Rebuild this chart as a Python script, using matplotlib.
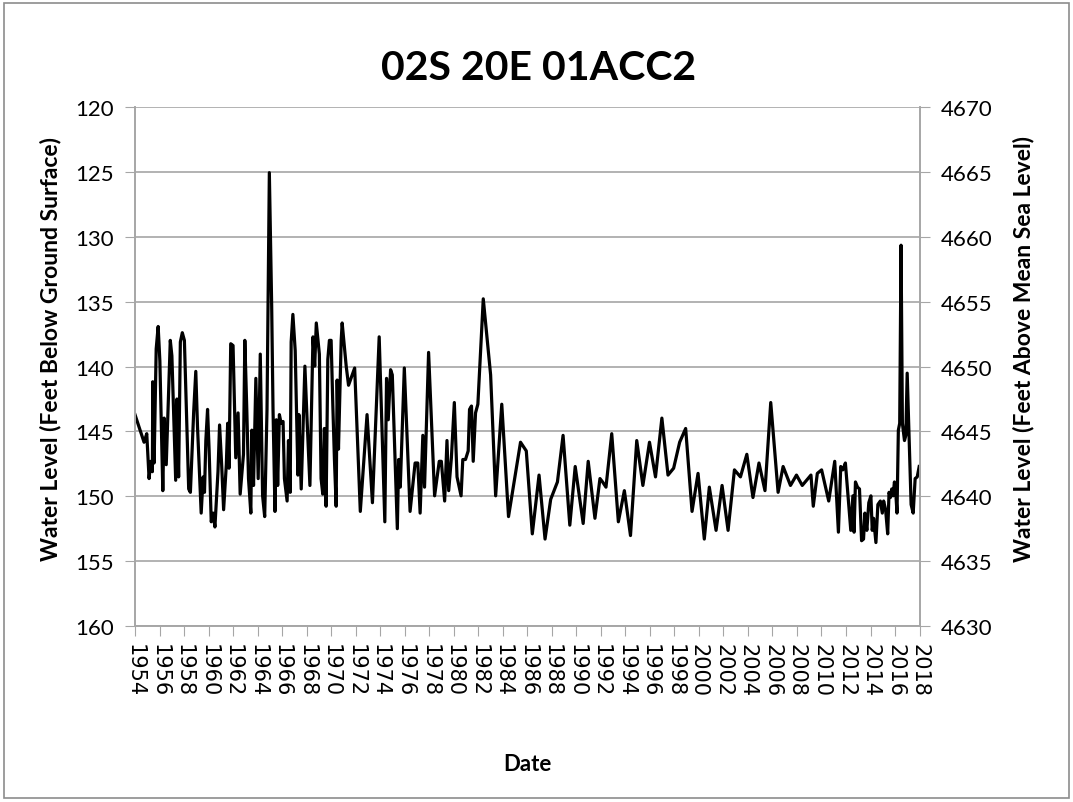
import matplotlib
matplotlib.use("Agg")
import matplotlib.pyplot as plt
from matplotlib.patches import Rectangle

# decimal year of each reading and depth to water (ft below ground surface)
years = [
    1954.00, 1954.74, 1954.96, 1955.15, 1955.29, 1955.42, 1955.45, 1955.56, 1955.73, 1955.89,
    1956.03, 1956.27, 1956.38, 1956.55, 1956.66, 1956.88, 1957.01, 1957.32, 1957.42, 1957.56,
    1957.70, 1957.86, 1958.03, 1958.38, 1958.52, 1958.79, 1958.96, 1959.10, 1959.40, 1959.56,
    1959.67, 1959.78, 1959.92, 1960.05, 1960.22, 1960.38, 1960.52, 1960.77, 1960.90, 1961.07,
    1961.23, 1961.45, 1961.56, 1961.67, 1961.81, 1962.00, 1962.22, 1962.41, 1962.58, 1962.85,
    1962.96, 1963.12, 1963.26, 1963.45, 1963.53, 1963.67, 1963.86, 1964.05, 1964.22, 1964.41,
    1964.58, 1964.77, 1964.96, 1965.15, 1965.26, 1965.42, 1965.53, 1965.64, 1965.78, 1965.92,
    1966.08, 1966.19, 1966.41, 1966.52, 1966.66, 1966.74, 1966.88, 1967.07, 1967.29, 1967.37,
    1967.56, 1967.75, 1967.86, 1968.05, 1968.27, 1968.52, 1968.66, 1968.79,
    1969.04, 1969.18, 1969.32, 1969.45, 1969.59, 1969.73, 1969.86, 1970.00, 1970.14, 1970.27,
    1970.41, 1970.49, 1970.60, 1970.82, 1970.90, 1971.23, 1971.42, 1971.92, 1972.38, 1972.93,
    1973.37, 1973.92, 1974.38, 1974.52, 1974.66, 1974.85, 1974.99, 1975.40, 1975.51, 1975.64,
    1975.97, 1976.44, 1976.85, 1977.07, 1977.26, 1977.48, 1977.62, 1977.95, 1978.44, 1978.82,
    1978.99, 1979.26, 1979.45, 1979.59, 1979.81, 1980.05, 1980.27, 1980.60, 1980.74, 1980.96,
    1981.18, 1981.29, 1981.45, 1981.59, 1981.78, 1981.97, 1982.41, 1983.01, 1983.42, 1983.92,
    1984.47, 1985.45, 1985.92, 1986.41, 1986.96, 1987.45, 1987.91, 1988.46, 1988.92, 1989.47,
    1989.91, 1990.56, 1990.97, 1991.52, 1991.93, 1992.15, 1992.42, 1992.89, 1993.43, 1993.92,
    1994.42, 1994.93, 1995.43, 1995.97, 1996.46, 1996.98, 1997.48, 1997.94, 1998.43, 1998.92,
    1999.44, 1999.93, 2000.44, 2000.85, 2001.40, 2001.89, 2002.38, 2002.90, 2003.39, 2003.91,
    2004.41, 2004.90, 2005.39, 2005.86, 2006.46, 2006.87, 2007.47, 2007.96, 2008.43, 2009.14,
    2009.33, 2009.66, 2010.01, 2010.59, 2011.08, 2011.38, 2011.57, 2011.74, 2011.95, 2012.12,
    2012.28, 2012.39, 2012.56, 2012.66, 2012.77, 2012.94, 2013.10, 2013.27, 2013.43, 2013.54,
    2013.70, 2013.86, 2014.03, 2014.14, 2014.25, 2014.44, 2014.60, 2014.80, 2014.96, 2015.07,
    2015.23, 2015.40, 2015.51, 2015.62, 2015.73, 2015.84, 2015.95, 2016.05, 2016.16, 2016.27,
    2016.38, 2016.49, 2016.60, 2016.77, 2016.88, 2016.99, 2017.15, 2017.31, 2017.48, 2017.64,
    2017.81, 2017.97,
]
depth = [
    143.70, 145.83, 145.17, 148.63, 147.30, 148.10, 141.17, 147.43, 138.64, 136.91,
    139.57, 149.56, 143.97, 147.56, 144.37, 137.98, 139.17, 148.76, 142.50, 148.50,
    138.11, 137.39, 137.98, 149.43, 149.69, 143.44, 140.37, 144.63, 151.29, 148.50,
    149.69, 145.70, 143.30, 146.50, 151.96, 151.29, 152.36, 148.10, 144.50, 147.56,
    151.03, 147.56, 144.37, 147.83, 138.24, 138.38, 147.03, 143.57, 149.83, 146.76,
    137.98, 143.30, 148.63, 151.29, 144.90, 149.16, 140.91, 148.63, 139.04, 149.96,
    151.56, 143.30, 125.06, 135.31, 143.30, 151.16, 144.10, 149.16, 143.70, 144.37,
    144.23, 148.63, 150.36, 145.70, 149.69, 138.11, 135.98, 138.78, 148.36, 143.70,
    149.43, 143.44, 139.97, 144.37, 149.16, 137.71, 139.97, 136.64,
    139.04, 148.63, 149.83, 144.77, 150.76, 139.44, 137.98, 137.98, 143.04, 147.16,
    150.76, 141.04, 146.36, 137.98, 136.64, 139.97, 141.44, 140.11, 151.16, 143.70,
    150.49, 137.71, 151.96, 140.91, 144.10, 140.24, 140.64, 152.49, 147.16, 149.29,
    140.11, 151.16, 147.43, 147.43, 151.29, 145.30, 149.29, 138.91, 149.96, 147.30,
    147.30, 150.36, 145.70, 149.56, 147.03, 142.77, 148.50, 149.96, 147.16, 147.16,
    146.50, 143.30, 143.04, 147.30, 143.57, 142.90, 134.78, 140.64, 149.96, 142.90,
    151.56, 145.83, 146.50, 152.89, 148.36, 153.29, 150.23, 148.89, 145.30, 152.22,
    147.70, 152.09, 147.30, 151.69, 148.63, 148.90, 149.29, 145.17, 151.96, 149.56,
    153.02, 145.70, 149.16, 145.83, 148.50, 143.97, 148.36, 147.83, 145.83, 144.77,
    151.16, 148.23, 153.29, 149.29, 152.62, 149.16, 152.62, 147.96, 148.50, 146.76,
    150.09, 147.43, 149.56, 142.77, 149.69, 147.70, 149.16, 148.36, 149.16, 148.36,
    150.76, 148.23, 147.96, 150.36, 147.30, 152.76, 147.70, 147.96, 147.43, 149.43,
    151.29, 152.62, 149.96, 152.76, 148.89, 149.29, 149.43, 153.42, 153.29, 151.29,
    152.62, 150.49, 149.96, 152.62, 151.69, 153.56, 150.63, 150.36, 151.29, 150.36,
    151.03, 152.89, 149.69, 150.09, 149.43, 149.96, 148.89, 149.56, 151.29, 144.90,
    144.37, 130.65, 144.37, 145.70, 145.30, 140.51, 145.56, 150.63, 151.29, 148.63,
    148.50, 147.70,
]

year_ticks = list(range(1954, 2019, 2))
depth_ticks = [120, 125, 130, 135, 140, 145, 150, 155, 160]
elev_ticks = [4630, 4635, 4640, 4645, 4650, 4655, 4660, 4665, 4670]

plt.rcParams['font.family'] = ['Lato', 'DejaVu Sans']
grid_col = '#a6a6a6'

fig = plt.figure(figsize=(10.73, 8.03), dpi=100)
ax = fig.add_axes([0.1258, 0.219, 0.7312, 0.6465])

ax.plot(years, depth, color='black', linewidth=2.3)

ax.set_xlim(1954, 2018)
ax.set_ylim(160, 120)
ax.set_xticks(year_ticks)
ax.set_xticklabels([str(y) for y in year_ticks], rotation=-90)
for lbl in ax.get_xticklabels():
    lbl.set_fontfamily('DejaVu Sans')
    lbl.set_fontsize(15)
ax.set_yticks(depth_ticks)
ax.tick_params(axis='y', labelsize=16, length=7, color=grid_col, pad=8)
ax.tick_params(axis='x', length=7, color=grid_col, pad=5)
ax.grid(axis='y', color=grid_col, linewidth=1.2)
ax.set_axisbelow(True)
ax.spines['top'].set_visible(False)
for side in ['left', 'bottom', 'right']:
    ax.spines[side].set_color(grid_col)
    ax.spines[side].set_linewidth(1.2)

ax.set_ylabel('Water Level (Feet Below Ground Surface)', fontsize=16.5, fontweight='bold')
ax.yaxis.set_label_coords(-0.094, 0.535)
ax.set_xlabel('Date', fontsize=16, fontweight='bold')
ax.xaxis.set_label_coords(0.5, -0.245)
fig.text(0.502, 0.915, '02S 20E 01ACC2', fontsize=29.5, fontweight='bold',
         ha='center', va='center')

ax2 = ax.twinx()
ax2.set_ylim(4630, 4670)
ax2.set_yticks(elev_ticks)
ax2.tick_params(axis='y', labelsize=16, length=7, color=grid_col, pad=8)
ax2.spines['top'].set_visible(False)
for side in ['left', 'bottom', 'right']:
    ax2.spines[side].set_color(grid_col)
    ax2.spines[side].set_linewidth(1.2)
ax2.set_ylabel('Water Level (Feet Above Mean Sea Level)', fontsize=16.5, fontweight='bold',
               rotation=90)
ax2.yaxis.set_label_coords(1.118, 0.535)

# chart frame
fig.patches.append(Rectangle((0.004, 0.005), 0.992, 0.99, transform=fig.transFigure,
                             fill=False, edgecolor='#8c8c8c', linewidth=1.2))

fig.savefig('out.png', dpi=100)
